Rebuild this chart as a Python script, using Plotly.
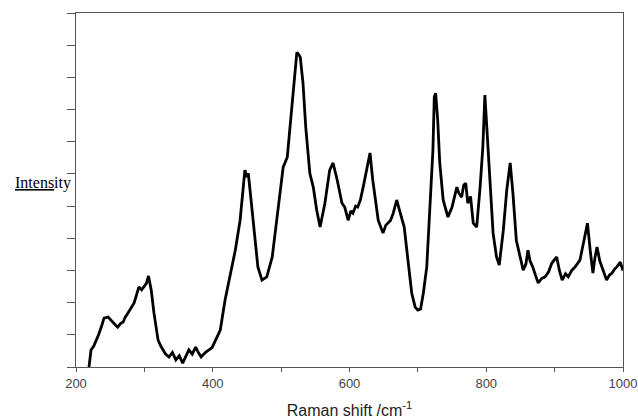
import plotly.graph_objects as go

raman_shift = [219, 222, 226, 229, 233, 237, 241, 247, 251, 254, 258, 261, 265, 269, 272, 276, 280, 285, 288, 292, 296, 299, 303, 306, 310,
               314, 317, 320, 324, 327, 331, 336, 341, 346, 351, 356, 360, 365, 370, 375, 379, 383, 389, 395, 399, 403, 407,
               411, 418, 425, 433, 440, 444, 447, 450, 452, 456, 462, 466, 472, 479, 487, 494, 498, 503, 509, 513, 517, 520,
               523, 526, 528, 532, 536, 542, 547, 552, 557, 564, 571, 576, 582, 589, 593, 598, 602, 605, 609, 612, 616, 620, 626,
               630, 634, 642, 649, 653, 656, 660, 664, 669, 673, 680, 686, 691, 696, 700, 704, 708, 713, 718, 722, 724, 726, 729,
               732, 737, 744, 750, 757, 760, 764, 767, 770, 773, 777, 781, 786, 791, 795, 798, 801, 805, 810, 815, 819, 825, 830,
               835, 839, 844, 848, 851, 854, 858, 861, 864, 868, 872, 876, 881, 886, 891, 896, 903, 907, 911, 916, 920, 925, 930,
               937, 943, 948, 952, 956, 959, 962, 966, 969, 976, 980, 984, 988, 991, 996, 1000]
intensity = [0.00, 0.53, 0.65, 0.78, 1.00, 1.24, 1.52, 1.55, 1.45, 1.40, 1.30, 1.24, 1.35, 1.40, 1.55, 1.68, 1.80, 1.99, 2.20, 2.49, 2.40, 2.49, 2.60, 2.83, 2.39,
             1.68, 1.20, 0.84, 0.65, 0.53, 0.40, 0.31, 0.45, 0.22, 0.35, 0.12, 0.30, 0.53, 0.40, 0.62, 0.45, 0.31, 0.45, 0.53, 0.60, 0.78, 0.95,
             1.15, 2.08, 2.80, 3.63, 4.56, 5.59, 6.12, 5.90, 6.02, 5.19, 3.85, 3.11, 2.70, 2.80, 3.42, 4.66, 5.28, 6.21, 6.52, 7.45, 8.39, 9.22,
             9.78, 9.70, 9.63, 8.82, 7.45, 6.02, 5.59, 4.88, 4.35, 5.09, 6.12, 6.34, 5.81, 5.09, 4.97, 4.56, 4.85, 4.78, 5.00, 4.97, 5.20, 5.59, 6.21,
             6.65, 5.81, 4.56, 4.16, 4.40, 4.47, 4.55, 4.78, 5.19, 4.88, 4.35, 3.23, 2.30, 1.86, 1.77, 1.80, 2.30, 3.11, 4.97, 6.74, 8.39, 8.51, 7.67,
             6.34, 5.19, 4.66, 4.97, 5.59, 5.40, 5.28, 5.65, 5.71, 5.09, 5.30, 4.47, 4.35, 5.59, 6.83, 8.45, 7.36, 5.81, 4.16, 3.42, 3.17, 4.25, 5.50,
             6.34, 5.40, 3.94, 3.54, 3.30, 3.01, 3.20, 3.63, 3.30, 3.11, 2.85, 2.61, 2.75, 2.80, 2.95, 3.23, 3.42, 3.00, 2.70, 2.90, 2.80, 3.00, 3.11,
             3.32, 3.94, 4.47, 3.63, 2.92, 3.40, 3.73, 3.30, 3.11, 2.70, 2.85, 2.92, 3.05, 3.11, 3.26, 3.00]

x_tickvals = [200, 400, 600, 800, 1000]
x_ticktext = ["200", "400", "600", "800", "1000"]

fig = go.Figure()
fig.add_trace(go.Scatter(x=raman_shift, y=intensity, mode="lines",
                         line=dict(color="black", width=2.8),
                         hoverinfo="skip", showlegend=False))

fig.update_layout(
    width=638, height=419,
    margin=dict(l=76, r=15, t=13, b=52, autoexpand=False),
    paper_bgcolor="white", plot_bgcolor="white",
    xaxis=dict(range=[200, 1000], tickvals=x_tickvals, ticktext=x_ticktext, automargin=False,
               showgrid=False, zeroline=False, showline=True, linecolor="#555", linewidth=1,
               mirror=True, ticks="outside", ticklen=4, tickcolor="#555",
               minor=dict(dtick=100, tick0=200, ticks="outside", ticklen=4, tickcolor="#555"),
               tickfont=dict(family="Liberation Sans", size=13, color="#444"),
               title=dict(text="Raman shift /cm<sup>-1</sup>", standoff=16,
                          font=dict(family="Liberation Sans", size=16, color="#222"))),
    yaxis=dict(range=[0, 11], dtick=1, tick0=0, showticklabels=False, automargin=False,
               showgrid=False, zeroline=False, showline=True, linecolor="#555", linewidth=1,
               mirror=True, ticks="outside", ticklen=8, tickcolor="#555"),
    annotations=[dict(text="<u>Intens</u>ity", xref="paper", yref="y", x=-0.006, y=5.71,
                      xanchor="right", yanchor="middle", showarrow=False,
                      font=dict(family="Liberation Serif", size=16, color="black"))],
)

fig.write_html("out.html")
